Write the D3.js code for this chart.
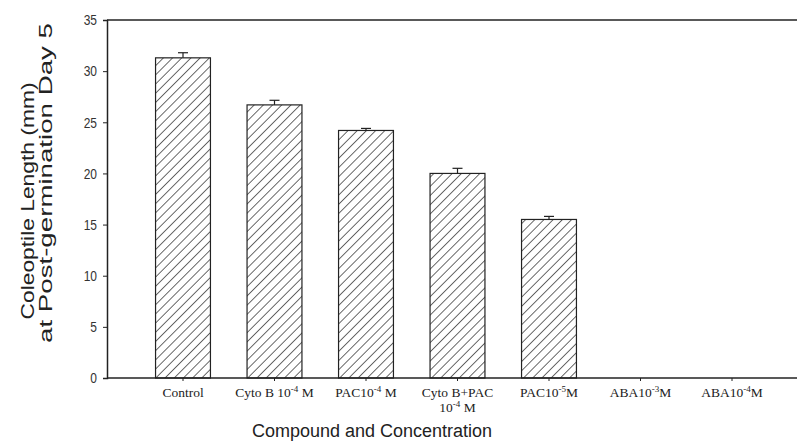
<!DOCTYPE html>
<html>
<head>
<meta charset="utf-8">
<script src="https://cdn.jsdelivr.net/npm/d3@7"></script>
<style>
  body { margin: 0; background: #fff; }
  svg { display: block; }
</style>
</head>
<body>
<div class="chart"></div>
<script>
// chart values
var categories = ["Control", "CytoB-4", "PAC-4", "CytoBPAC-4", "PAC-5", "ABA-3", "ABA-4"];
// each label: list of lines, each line a list of [text, isSuperscript]
var tickLabels = [
  [[["Control", false]]],
  [[["Cyto B 10", false], ["-4", true], [" M", false]]],
  [[["PAC10", false], ["-4", true], [" M", false]]],
  [[["Cyto B+PAC", false]], [["10", false], ["-4", true], [" M", false]]],
  [[["PAC10", false], ["-5", true], ["M", false]]],
  [[["ABA10", false], ["-3", true], ["M", false]]],
  [[["ABA10", false], ["-4", true], ["M", false]]]
];
var lengths = [31.3, 26.7, 24.2, 20.0, 15.5, 0, 0];
var errors  = [0.5, 0.45, 0.2, 0.5, 0.3, 0, 0];
var yTicks = [0, 5, 10, 15, 20, 25, 30, 35];

var W = 797, H = 444;
var margin = { left: 107, top: 20, bottom: 378, right: 797 };

var svg = d3.select(".chart").append("svg")
    .attr("width", W)
    .attr("height", H);

// hatch pattern
var defs = svg.append("defs");
var pat = defs.append("pattern")
    .attr("id", "hatch")
    .attr("patternUnits", "userSpaceOnUse")
    .attr("width", 6.5)
    .attr("height", 6.5)
    .attr("patternTransform", "rotate(45)");
pat.append("rect").attr("width", 6.5).attr("height", 6.5).attr("fill", "#fff");
pat.append("line")
    .attr("x1", 0).attr("y1", 0).attr("x2", 0).attr("y2", 6.5)
    .attr("stroke", "#444").attr("stroke-width", 1.6);

var x = d3.scaleBand()
    .domain(categories)
    .range([137.25, 777.75])
    .paddingInner(0.4)
    .paddingOuter(0.2);

var y = d3.scaleLinear()
    .domain([0, 35])
    .range([margin.bottom, margin.top]);

// top frame line
svg.append("line")
    .attr("x1", margin.left).attr("x2", margin.right)
    .attr("y1", margin.top).attr("y2", margin.top)
    .attr("stroke", "#222").attr("stroke-width", 1.5);

// bars
svg.selectAll(".bar")
    .data(lengths)
    .enter().append("rect")
    .attr("class", "bar")
    .attr("x", function(d, i) { return x(categories[i]); })
    .attr("width", x.bandwidth())
    .attr("y", function(d) { return y(d); })
    .attr("height", function(d) { return y(0) - y(d); })
    .attr("fill", "url(#hatch)")
    .attr("stroke", function(d) { return d > 0 ? "#222" : "none"; })
    .attr("stroke-width", 1.2);

// error bars (upper only)
var eb = svg.selectAll(".err")
    .data(lengths)
    .enter().append("g")
    .attr("class", "err")
    .style("display", function(d) { return d > 0 ? null : "none"; });

eb.append("line")
    .attr("x1", function(d, i) { return x(categories[i]) + x.bandwidth() / 2; })
    .attr("x2", function(d, i) { return x(categories[i]) + x.bandwidth() / 2; })
    .attr("y1", function(d) { return y(d); })
    .attr("y2", function(d, i) { return y(d + errors[i]); })
    .attr("stroke", "#222").attr("stroke-width", 1.2);

eb.append("line")
    .attr("x1", function(d, i) { return x(categories[i]) + x.bandwidth() / 2 - 5; })
    .attr("x2", function(d, i) { return x(categories[i]) + x.bandwidth() / 2 + 5; })
    .attr("y1", function(d, i) { return y(d + errors[i]); })
    .attr("y2", function(d, i) { return y(d + errors[i]); })
    .attr("stroke", "#222").attr("stroke-width", 1.2);

// y axis
var yAxis = d3.axisLeft(y).tickValues(yTicks).tickSize(4).tickPadding(6);
var gy = svg.append("g")
    .attr("transform", "translate(" + margin.left + ",0)")
    .call(yAxis);
gy.select(".domain").attr("stroke", "#222").attr("stroke-width", 1.5);
gy.selectAll(".tick line").attr("stroke", "#222");
gy.selectAll(".tick text")
    .attr("font-family", "Liberation Sans, Arial, sans-serif")
    .attr("font-size", 12)
    .attr("transform", "scale(1,1.25)")
    .attr("fill", "#333");

// x axis
var xAxis = d3.axisBottom(x).tickSize(3).tickFormat("");
var gx = svg.append("g")
    .attr("transform", "translate(0," + margin.bottom + ")")
    .call(xAxis);
gx.select(".domain").remove();
gx.selectAll(".tick line").attr("stroke", "#222");
svg.append("line")
    .attr("x1", margin.left).attr("x2", margin.right)
    .attr("y1", margin.bottom).attr("y2", margin.bottom)
    .attr("stroke", "#222").attr("stroke-width", 1.5);

// x tick labels with superscripts
gx.selectAll(".tick").each(function(d, i) {
  var t = d3.select(this).append("text")
      .attr("y", 19)
      .attr("text-anchor", "middle")
      .attr("font-family", "Liberation Serif, Times New Roman, serif")
      .attr("font-size", 13.5)
      .attr("fill", "#222");
  tickLabels[i].forEach(function(line, li) {
    line.forEach(function(part, pi) {
      var ts = t.append("tspan").text(part[0]);
      if (pi === 0) ts.attr("x", 0).attr("dy", li === 0 ? 0 : 15);
      if (part[1]) ts.attr("font-size", 9).attr("baseline-shift", "super");
    });
  });
});

// axis titles
svg.append("text")
    .attr("transform", "translate(34,201) rotate(-90)")
    .attr("text-anchor", "middle")
    .attr("font-family", "Liberation Sans, Arial, sans-serif")
    .attr("font-size", 18)
    .attr("textLength", 237)
    .attr("lengthAdjust", "spacingAndGlyphs")
    .attr("fill", "#222")
    .text("Coleoptile Length (mm)");
svg.append("text")
    .attr("transform", "translate(52,183) rotate(-90)")
    .attr("text-anchor", "middle")
    .attr("font-family", "Liberation Sans, Arial, sans-serif")
    .attr("font-size", 18)
    .attr("textLength", 320)
    .attr("lengthAdjust", "spacingAndGlyphs")
    .attr("fill", "#222")
    .text("at Post-germination Day 5");

svg.append("text")
    .attr("x", 372)
    .attr("y", 437)
    .attr("text-anchor", "middle")
    .attr("font-family", "Liberation Sans, Arial, sans-serif")
    .attr("font-size", 18)
    .attr("fill", "#222")
    .text("Compound and Concentration");
</script>
</body>
</html>
